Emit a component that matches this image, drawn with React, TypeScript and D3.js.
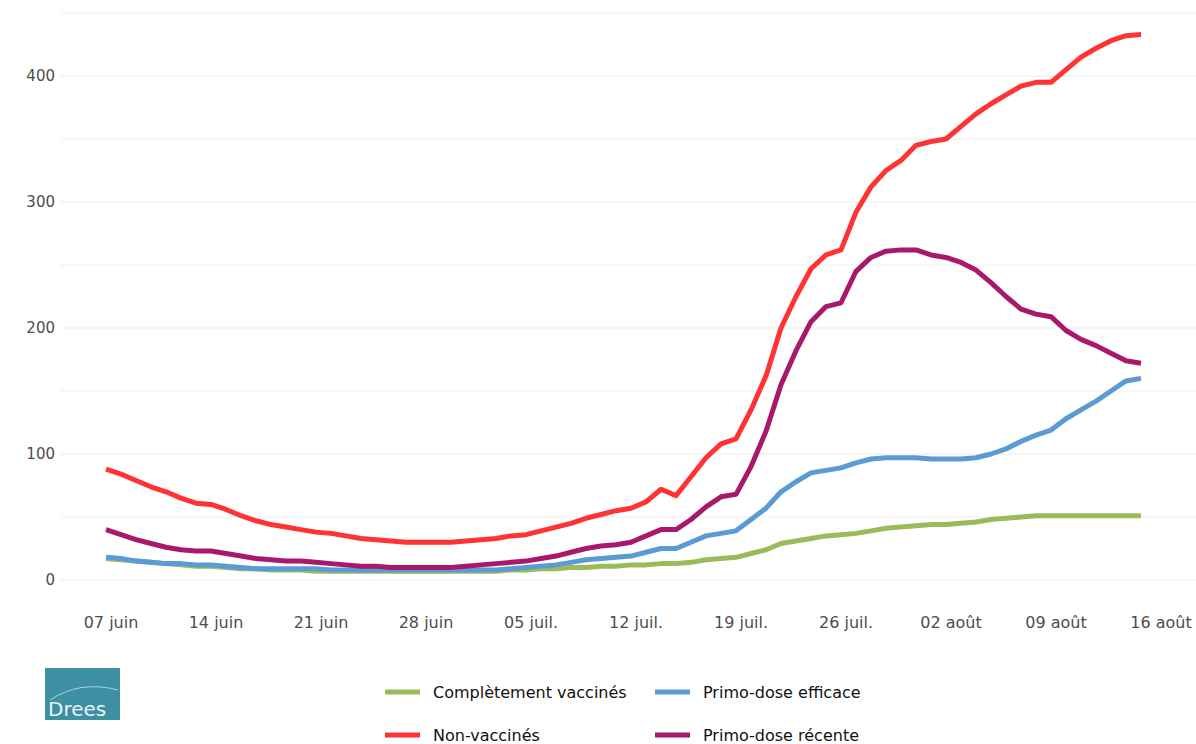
import React from "react";
import * as d3 from "d3";

const startDate = new Date(2021, 5, 7);
const nonVax = [88,84,79,74,70,65,61, 60,56,51,47,44,42,40, 38,37,35,33,32,31,30, 30,30,30,31,32,33,35, 36,39,42,45,49,52,55, 57,62,72,67,82,97,108, 112,135,162,200,225,247,258, 262,292,312,325,333,345,348, 350,360,370,378,385,392,395, 395,405,415,422,428,432,433];
const recente = [40,36,32,29,26,24,23, 23,21,19,17,16,15,15, 14,13,12,11,11,10,10, 10,10,10,11,12,13,14, 15,17,19,22,25,27,28, 30,35,40,40,48,58,66, 68,90,118,155,182,205,217, 220,245,256,261,262,262,258, 256,252,246,236,225,215,211, 209,198,191,186,180,174,172];
const efficace = [18,17,15,14,13,13,12, 12,11,10,9,9,9,9, 9,8,8,8,8,8,8, 8,8,8,8,8,8,9, 10,11,12,14,16,17,18, 19,22,25,25,30,35,37, 39,48,57,70,78,85,87, 89,93,96,97,97,97,96, 96,96,97,100,104,110,115, 119,128,135,142,150,158,160];
const complet = [17,16,15,14,13,12,11, 11,10,9,9,8,8,8, 7,7,7,7,7,7,7, 7,7,7,7,7,7,8, 8,9,9,10,10,11,11, 12,12,13,13,14,16,17, 18,21,24,29,31,33,35, 36,37,39,41,42,43,44, 44,45,46,48,49,50,51, 51,51,51,51,51,51,51];
const tickLabels = ["07 juin","14 juin","21 juin","28 juin","05 juil.","12 juil.","19 juil.","26 juil.","02 août","09 août","16 août"];
const yTicks = [0,100,200,300,400];

const series = [
  { name: "Complètement vaccinés", values: complet, color: "#9bbb59" },
  { name: "Primo-dose efficace", values: efficace, color: "#5b9bd5" },
  { name: "Primo-dose récente", values: recente, color: "#a8196b" },
  { name: "Non-vaccinés", values: nonVax, color: "#ff3333" },
];

export default function App() {
  const W = 1196, H = 744;
  const day = (i: number) => d3.timeDay.offset(startDate, i);
  const x = d3.scaleTime().domain([startDate, day(70)]).range([106, 1156]);
  const y = d3.scaleLinear().domain([0, 450]).range([580, 13]);
  const line = (vals: number[]) =>
    d3.line<number>().x((_, i) => x(day(i))).y(v => y(v))(vals) || "";
  const grid = d3.range(0, 451, 50);
  const legend = [
    { s: series[0], lx: 385, ly: 698 },
    { s: series[1], lx: 655, ly: 698 },
    { s: series[3], lx: 385, ly: 741 },
    { s: series[2], lx: 655, ly: 741 },
  ];
  return (
    <svg width={W} height={H} style={{ position: "absolute", left: 0, top: 0, background: "#fff" }}
      fontFamily="DejaVu Sans, Verdana, sans-serif">
      {grid.map(g => (
        <line key={g} x1={60} x2={1196} y1={y(g)} y2={y(g)} stroke="#ebebeb" strokeWidth={g % 100 === 0 ? 1.2 : 0.8} />
      ))}
      {yTicks.map(t => (
        <text key={t} x={55} y={y(t) + 5} textAnchor="end" fontSize={15} fill="#4d4d4d">{t}</text>
      ))}
      {tickLabels.map((l, i) => (
        <text key={l} x={x(day(i * 7)) + 5} y={628} textAnchor="middle" fontSize={16} fill="#4d4d4d">{l}</text>
      ))}
      {series.map(s => (
        <path key={s.name} d={line(s.values)} fill="none" stroke={s.color} strokeWidth={5} strokeLinejoin="round" />
      ))}
      {legend.map(({ s, lx, ly }) => (
        <g key={s.name}>
          <line x1={lx} x2={lx + 35} y1={ly - 6} y2={ly - 6} stroke={s.color} strokeWidth={5} />
          <text x={lx + 48} y={ly} fontSize={16} fill="#111">{s.name}</text>
        </g>
      ))}
      <rect x={45} y={668} width={75} height={52} fill="#3f8fa3" />
      <path d="M50,700 Q80,680 118,690" stroke="#a9d3dc" fill="none" strokeWidth={1} />
      <text x={48} y={716} fontSize={20} fill="#e8f4f6">Drees</text>
    </svg>
  );
}
